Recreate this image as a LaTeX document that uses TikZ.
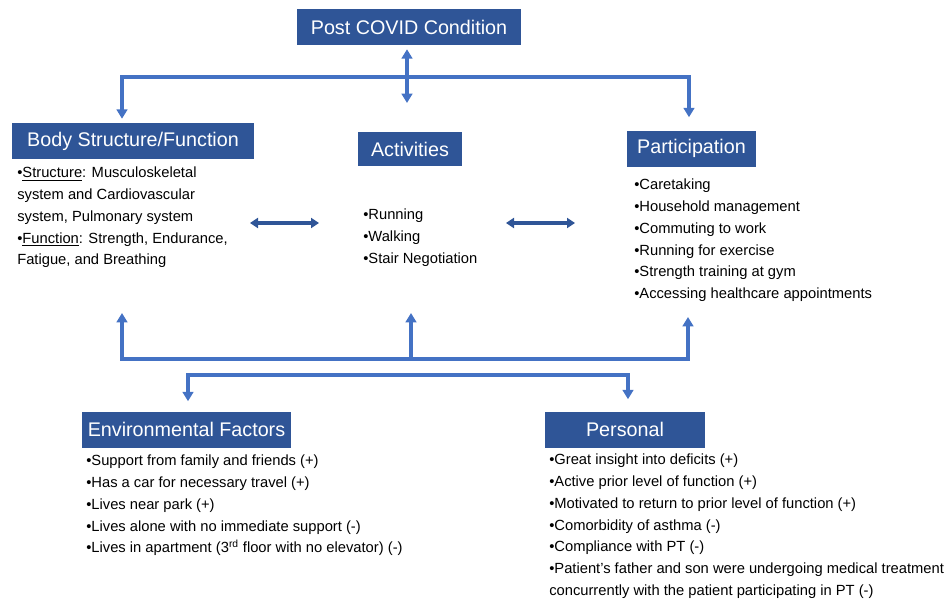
\documentclass[tikz,border=0pt]{standalone}
\usepackage{fontspec}
\setmainfont{Liberation Sans}
\usetikzlibrary{arrows.meta,positioning}
\definecolor{hdrblue}{HTML}{2F5597}
\definecolor{linkblue}{HTML}{4472C4}

\begin{document}
\begin{tikzpicture}[
    x=0.75pt, y=-0.75pt,
    hdr/.style={fill=hdrblue, text=white, inner sep=0pt, minimum height=27pt, font=\fontsize{14.8}{17}\selectfont},
    txt/.style={anchor=north west, inner sep=0pt, align=left, font=\fontsize{11.05}{16.3}\selectfont},
    link/.style={draw=linkblue, line width=2.3pt, {Triangle[length=7pt,width=8pt]}-{Triangle[length=7pt,width=8pt]}},
    uplink/.style={draw=linkblue, line width=2.3pt, -{Triangle[length=7pt,width=8pt]}},
    dlink/.style={draw=hdrblue, line width=2.3pt, {Triangle[length=6pt,width=7.5pt]}-{Triangle[length=6pt,width=7.5pt]}}
  ]
  \useasboundingbox (0,0) rectangle (951,600);

  % headers
  \node[hdr, minimum width=168pt] (post) at (409,27) {Post COVID Condition};
  \node[hdr, minimum width=181.5pt] (body) at (133,141) {Body Structure/Function};
  \node[hdr, minimum width=78pt, minimum height=25.5pt] (act) at (410,149) {Activities};
  \node[hdr, minimum width=96.75pt] (part) at (691.5,148.5) {Participation};
  \node[hdr, minimum width=156.75pt] (env) at (186.5,429.5) {Environmental Factors};
  \node[hdr, minimum width=120pt] (pers) at (625,429.5) {Personal};

  % lists
  \node[txt] (bodytxt) at (17,167) {•\underline{Structure}: Musculoskeletal\\system and Cardiovascular\\system, Pulmonary system\\•\underline{Function}: Strength, Endurance,\\Fatigue, and Breathing};
  \node[txt] (acttxt) at (363,209) {•Running\\•Walking\\•Stair Negotiation};
  \node[txt] (parttxt) at (634,179) {•Caretaking\\•Household management\\•Commuting to work\\•Running for exercise\\•Strength training at gym\\•Accessing healthcare appointments};
  \node[txt] (envtxt) at (86,455) {•Support from family and friends (+)\\•Has a car for necessary travel (+)\\•Lives near park (+)\\•Lives alone with no immediate support (-)\\•Lives in apartment (3\textsuperscript{rd} floor with no elevator) (-)};
  \node[txt] (perstxt) at (549,454) {•Great insight into deficits (+)\\•Active prior level of function (+)\\•Motivated to return to prior level of function (+)\\•Comorbidity of asthma (-)\\•Compliance with PT (-)\\•Patient’s father and son were undergoing medical treatment\\concurrently with the patient participating in PT (-)};

  % top bus from the condition
  \coordinate (tl) at (122,77);
  \coordinate (tr) at (689,77);
  \coordinate (tm) at (407,103);
  \draw[link, shorten <=3pt] (post.south -| tm) -- (tm);
  \draw[link, shorten <=3pt, shorten >=9.75pt] (body.north -| tl) -- (tl) -- (tr) -- (part.north -| tr);

  % arrows between the three columns
  \coordinate (h1a) at (250,223);
  \coordinate (h1b) at (319,223);
  \coordinate (h2a) at (506,223);
  \coordinate (h2b) at (575,223);
  \draw[dlink] (h1a) -- (h1b);
  \draw[dlink] (h2a) -- (h2b);

  % bottom bus back up
  \coordinate (bodyup) at (122,313);
  \coordinate (actup) at (411,313);
  \coordinate (partup) at (688,317);
  \coordinate (bl) at (122,359);
  \coordinate (bm) at (411,359);
  \coordinate (br) at (688,359);
  \draw[link] (bodyup) -- (bl) -- (br) -- (partup);
  \draw[uplink] (bm) -- (actup);

  % contextual factors
  \coordinate (el) at (188,375);
  \coordinate (pr) at (628,375);
  \draw[link, shorten <=7.5pt, shorten >=9pt] (env.north -| el) -- (el) -- (pr) -- (pers.north -| pr);
\end{tikzpicture}
\end{document}
